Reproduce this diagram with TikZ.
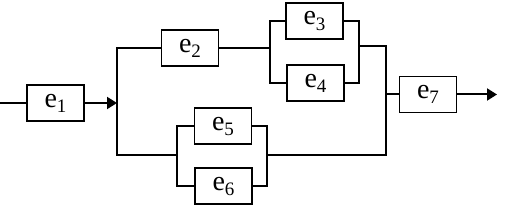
\documentclass[tikz,border=0pt]{standalone}
\usepackage{fontspec}
\setmainfont{Liberation Serif}
\usepackage{tikz}
\usetikzlibrary{arrows.meta, calc}
\newcommand{\elem}[1]{e\raisebox{-2.5pt}{\fontsize{9.5}{10}\selectfont #1}}
\tikzset{
  rb/box/.style={rectangle, draw=black, fill=white,
    minimum width=28.5pt, minimum height=18pt, inner sep=0pt,
    font=\fontsize{14}{15}\selectfont, line width=0.6pt},
  rb/wire/.style={line width=1pt, draw=black},
  rb/arr/.style={-{Triangle[length=5pt,width=6pt]}, line width=1pt,
    draw=black}
}

\begin{document}
\begin{tikzpicture}[x=0.5pt, y=-0.5pt]
    \useasboundingbox (0,0) rectangle (508,213);
    % elements
    \node[rb/box] (e1) at (55.5,103) {\elem{1}};
    \node[rb/box] (e2) at (190,48)   {\elem{2}};
    \node[rb/box] (e3) at (314.5,21) {\elem{3}};
    \node[rb/box] (e4) at (315.5,83) {\elem{4}};
    \node[rb/box] (e5) at (223,126)  {\elem{5}};
    \node[rb/box] (e6) at (223.5,186) {\elem{6}};
    \node[rb/box] (e7) at (428,94.5) {\elem{7}};
    % branch and join points
    \coordinate (in)   at (0,103);
    \coordinate (bus)  at (117,103);
    \coordinate (bTop) at (117,48);
    \coordinate (bBot) at (117,155);
    \coordinate (s34)  at (270,48);
    \coordinate (j34)  at (359,46);
    \coordinate (s56)  at (177,155);
    \coordinate (j56)  at (267,155);
    \coordinate (jRt)  at (386,46);
    \coordinate (jRb)  at (386,155);
    \coordinate (j7)   at (386,94.5);
    \coordinate (out)  at (497,94.5);
    % connections
    \draw[rb/wire] (in) -- (e1.west);
    \draw[rb/arr] (e1.east) -- (bus);
    \draw[rb/wire] (e2.west) -| (bTop) -- (bBot) -- (s56);
    \draw[rb/wire] (e2.east) -- (s34);
    \draw[rb/wire] (e3.west) -| (s34) |- (e4.west);
    \draw[rb/wire] (e3.east) -| (j34) |- (e4.east);
    \draw[rb/wire] (e5.west) -| (s56) |- (e6.west);
    \draw[rb/wire] (e5.east) -| (j56) |- (e6.east);
    \draw[rb/wire] (j34) -- (jRt) -- (jRb) -- (j56);
    \draw[rb/wire] (j7) -- (e7.west);
    \draw[rb/arr] (e7.east) -- (out);
\end{tikzpicture}
\end{document}
